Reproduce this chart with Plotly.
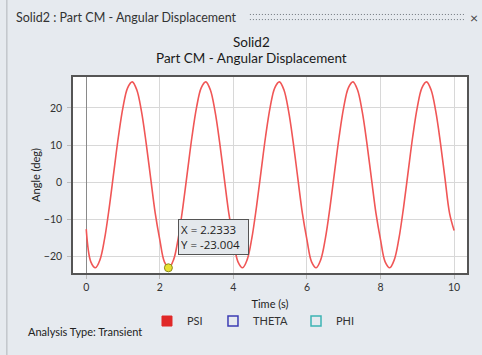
import plotly.graph_objects as go

# ---- data ----
time_s = [0.0, 0.125, 0.25, 0.375, 0.5, 0.625, 0.75, 0.875,
          1.0, 1.125, 1.25, 1.375, 1.5, 1.625, 1.75, 1.875,
          2.0, 2.125, 2.25, 2.375, 2.5, 2.625, 2.75, 2.875,
          3.0, 3.125, 3.25, 3.375, 3.5, 3.625, 3.75, 3.875,
          4.0, 4.125, 4.25, 4.375, 4.5, 4.625, 4.75, 4.875,
          5.0, 5.125, 5.25, 5.375, 5.5, 5.625, 5.75, 5.875,
          6.0, 6.125, 6.25, 6.375, 6.5, 6.625, 6.75, 6.875,
          7.0, 7.125, 7.25, 7.375, 7.5, 7.625, 7.75, 7.875,
          8.0, 8.125, 8.25, 8.375, 8.5, 8.625, 8.75, 8.875,
          9.0, 9.125, 9.25, 9.375, 9.5, 9.625, 9.75, 9.875, 10.0]
psi_deg = [-12.6, -21.4, -23.0, -20.8, -15.1, -6.8, 2.8, 12.3,
           20.2, 25.4, 27.0, 24.8, 19.1, 10.8, 1.2, -8.3,
           -15.5, -21.4, -23.0, -20.8, -15.1, -6.8, 2.8, 12.3,
           20.2, 25.4, 27.0, 24.8, 19.1, 10.8, 1.2, -8.3,
           -15.5, -21.4, -23.0, -20.8, -15.1, -6.8, 2.8, 12.3,
           20.2, 25.4, 27.0, 24.8, 19.1, 10.8, 1.2, -8.3,
           -15.5, -21.4, -23.0, -20.8, -15.1, -6.8, 2.8, 12.3,
           20.2, 25.4, 27.0, 24.8, 19.1, 10.8, 1.2, -8.3,
           -15.5, -21.4, -23.0, -20.8, -15.1, -6.8, 2.8, 12.3,
           20.2, 25.4, 27.0, 24.8, 19.1, 10.8, 1.2, -8.3, -13.0]
probe_x = [2.2333]
probe_y = [-23.004]
series_names = ["PSI", "THETA", "PHI"]
x_ticks = [0, 2, 4, 6, 8, 10]
y_ticks = [-20, -10, 0, 10, 20]

FONT = "Segoe UI, Lato, Noto Sans, sans-serif"
TIP_FONT = "Segoe UI, Open Sans, Noto Sans, sans-serif"
BG = "#e6eaef"

fig = go.Figure()

fig.add_trace(go.Scatter(
    x=time_s, y=psi_deg, mode="lines", line=dict(color="#f05656", width=1.6, shape="spline"),
    showlegend=False, hoverinfo="skip"))

fig.add_trace(go.Scatter(
    x=probe_x, y=probe_y, mode="markers",
    marker=dict(color="#e8e030", size=8, line=dict(color="#8a8a20", width=1)),
    showlegend=False, hoverinfo="skip"))

legend_styles = [
    dict(symbol="square", color="#e02828", line=dict(color="#e02828", width=1)),
    dict(symbol="square-open", color="#3c3cb4", line=dict(color="#3c3cb4", width=1.5)),
    dict(symbol="square-open", color="#3cb4b4", line=dict(color="#3cb4b4", width=1.5)),
]
legend_ids = ["legend", "legend2", "legend3"]
legend_x = [0.1878, 0.3553, 0.566]
for name, st, lid in zip(series_names, legend_styles, legend_ids):
    fig.add_trace(go.Scatter(x=[None], y=[None], mode="markers", name=name, legend=lid,
                             marker=dict(size=10, **st)))

legend_common = dict(orientation="h", y=-0.245, xanchor="left", yanchor="middle",
                     bgcolor="rgba(0,0,0,0)", font=dict(size=11, color="#333333", family=FONT),
                     itemwidth=30, itemclick=False, itemdoubleclick=False)

fig.update_layout(
    width=482, height=355,
    margin=dict(l=73, r=15, t=77, b=82),
    paper_bgcolor=BG, plot_bgcolor="white",
    font=dict(family=FONT, size=11, color="#333333"),
    showlegend=True,
    legend=dict(x=legend_x[0], **legend_common),
    legend2=dict(x=legend_x[1], **legend_common),
    legend3=dict(x=legend_x[2], **legend_common),
    xaxis=dict(range=[-0.36, 10.35], tickvals=x_ticks, showgrid=True, gridcolor="#d8d8d8",
               gridwidth=1, zeroline=True, zerolinecolor="#8a8a8a", zerolinewidth=1,
               showline=True, linecolor="#555555", linewidth=1.5, mirror=True,
               ticks="outside", ticklen=4, tickcolor="#bbbbbb",
               tickfont=dict(size=10.5, color="#333333"),
               title=dict(text="Time (s)", standoff=8, font=dict(size=11, color="#222222"))),
    yaxis=dict(range=[-24.4, 28.3], tickvals=y_ticks, showgrid=True, gridcolor="#d8d8d8",
               gridwidth=1, zeroline=False,
               showline=True, linecolor="#555555", linewidth=1.5, mirror=True,
               ticks="outside", ticklen=4, tickcolor="#bbbbbb", ticklabelstandoff=3,
               tickfont=dict(size=10.5, color="#333333"),
               title=dict(text="Angle (deg)", standoff=1, font=dict(size=11, color="#222222"))),
)

# chart titles
fig.add_annotation(xref="paper", yref="paper", x=0.454, y=1.177, xanchor="center", yanchor="middle",
                   text="Solid2", showarrow=False,
                   font=dict(size=13.5, color="#1a1a1a", family=FONT))
fig.add_annotation(xref="paper", yref="paper", x=0.454, y=1.0985, xanchor="center", yanchor="middle",
                   text="Part CM - Angular Displacement", showarrow=False,
                   font=dict(size=13.5, color="#1a1a1a", family=FONT))
# window header
fig.add_annotation(xref="paper", yref="paper", x=-0.1497, y=1.306, xanchor="left", yanchor="middle",
                   text="Solid2 : Part CM - Angular Displacement", showarrow=False,
                   font=dict(size=12.5, color="#333333", family=FONT))
fig.add_annotation(xref="paper", yref="paper", x=1.033, y=1.306, xanchor="right", yanchor="middle",
                   text="×", showarrow=False, font=dict(size=14, color="#444444", family=FONT))
for yy in (1.319, 1.293):
    fig.add_shape(type="line", xref="paper", yref="paper", x0=0.449, x1=0.995, y0=yy, y1=yy,
                  line=dict(color="#6f767d", width=1, dash="1px,2px"))
fig.add_shape(type="line", xref="paper", yref="paper", x0=-0.168, x1=-0.168, y0=-0.42, y1=1.40,
              line=dict(color="#c2c6cb", width=1.5))

# analysis note
fig.add_annotation(xref="paper", yref="paper", x=-0.119, y=-0.301, xanchor="left", yanchor="middle",
                   text="Analysis Type: Transient", showarrow=False,
                   font=dict(size=11, color="#222222", family=FONT))

# probe tooltip
fig.add_annotation(x=probe_x[0], y=probe_y[0], xref="x", yref="y",
                   text=f"X = {probe_x[0]}<br>Y = {probe_y[0]}", showarrow=False,
                   xanchor="left", yanchor="top", xshift=10, yshift=49, align="left",
                   width=65, height=30, valign="middle",
                   bgcolor="#e4e8ec", bordercolor="#555555", borderwidth=1, borderpad=2,
                   font=dict(size=11.5, color="#222222", family=TIP_FONT))

fig.write_html("out.html")
